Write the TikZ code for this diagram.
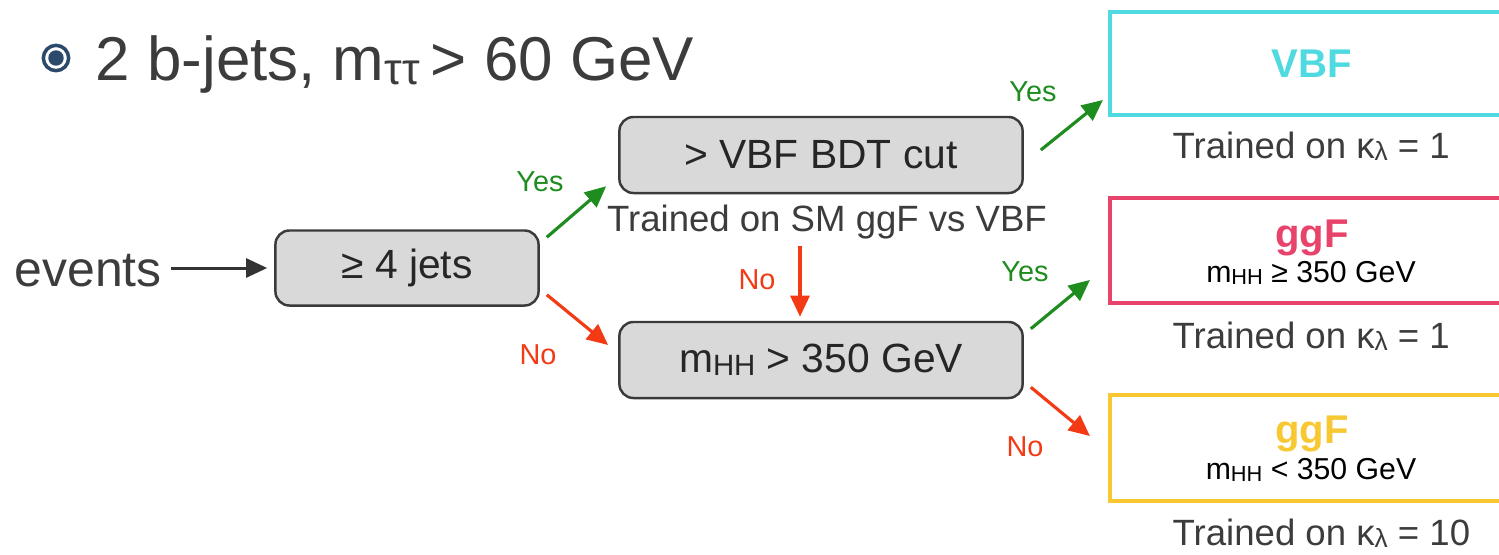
\documentclass[tikz,border=0pt]{standalone}
\usepackage{fontspec}
\setmainfont{Liberation Sans}
\usetikzlibrary{arrows.meta,calc}
\definecolor{txt}{HTML}{3C3C3C}
\definecolor{boxfill}{HTML}{D9D9D9}
\definecolor{boxdraw}{HTML}{3A3A3A}
\definecolor{yesgreen}{HTML}{1E8C1E}
\definecolor{nored}{HTML}{F23A14}
\definecolor{vbfcyan}{HTML}{4FD9E0}
\definecolor{ggfpink}{HTML}{E8436B}
\definecolor{ggfyellow}{HTML}{F8C832}
\definecolor{bulletblue}{HTML}{2C4A6C}
\newcommand\lsub[1]{\raisebox{-0.08em}{\scalebox{0.72}{#1}}}
\newcommand\fs[1]{\fontsize{#1}{#1}\selectfont}
\tikzset{
  x=0.01cm, y=-0.01cm,
  decision/.style={draw=boxdraw, fill=boxfill, line width=0.7pt, rounded corners=4pt,
    inner sep=0pt, text=black!85, font=\fs{11.6pt}},
  result/.style={draw=#1, line width=1.1pt, inner sep=0pt},
  yesarrow/.style={draw=yesgreen, line width=0.9pt, -{Triangle[length=6pt,width=5.4pt]}},
  noarrow/.style={draw=nored, line width=0.9pt, -{Triangle[length=6pt,width=5.4pt]}},
  yeslabel/.style={text=yesgreen, font=\fs{8.2pt}, inner sep=0pt},
  nolabel/.style={text=nored, font=\fs{8.2pt}, inner sep=0pt},
  trained/.style={text=txt, font=\fs{10.4pt}, inner sep=0pt},
}
\begin{document}
\begin{tikzpicture}
\useasboundingbox (0,0) rectangle (1499,554);
\clip (0,0) rectangle (1499,554);
% title bullet
\node[circle, draw=bulletblue, line width=1pt, fill=white, minimum size=7.2pt, inner sep=0pt] (bul) at (56,58) {};
\node[circle, fill=bulletblue, minimum size=4.4pt, inner sep=0pt] (bulin) at (bul) {};
\node[anchor=base west, text=txt, font=\fs{17.6pt}, inner sep=0pt] (title) at (95,80)
  {2 b-jets, m\lsub{ττ} \kern-0.1em> 60 GeV};
% events
\node[anchor=base west, text=txt, font=\fs{14.2pt}, inner sep=0pt] (events) at (14,286) {events};
% decision boxes
\node[decision, minimum width=2.63cm, minimum height=0.75cm] (jets) at (407,268) {≥ 4 jets};
\node[decision, minimum width=4.03cm, minimum height=0.76cm] (bdt) at (821,155) {> VBF BDT cut};
\node[decision, minimum width=4.03cm, minimum height=0.76cm] (mhh) at (821,360) {m\lsub{HH} > 350 GeV};
\node[trained] (bdtnote) at (827,222) {Trained on SM ggF vs VBF};
% result boxes
\node[result=vbfcyan, minimum width=4.2cm, minimum height=1.03cm] (vbf) at (1320,63.5) {};
\node[result=ggfpink, minimum width=4.2cm, minimum height=1.05cm] (ggfhi) at (1320,250.5) {};
\node[result=ggfyellow, minimum width=4.2cm, minimum height=1.06cm] (ggflo) at (1320,448) {};
\node[text=vbfcyan, font=\bfseries\fs{11.4pt}, inner sep=0pt] (vbft) at (1312,64) {VBF};
\node[text=ggfpink, font=\bfseries\fs{11.4pt}, inner sep=0pt] (ggfhit) at (1312,238) {ggF};
\node[text=black, font=\fs{8.6pt}, inner sep=0pt] (ggfhic) at (1311,273) {m\lsub{HH} ≥ 350 GeV};
\node[text=ggfyellow, font=\bfseries\fs{11.4pt}, inner sep=0pt] (ggflot) at (1312,434) {ggF};
\node[text=black, font=\fs{8.6pt}, inner sep=0pt] (ggfloc) at (1311,470) {m\lsub{HH} < 350 GeV};
\node[trained, anchor=base west] (tr1) at (1172,158) {Trained on κ\lsub{λ} = 1};
\node[trained, anchor=base west] (tr2) at (1172,348) {Trained on κ\lsub{λ} = 1};
\node[trained, anchor=base west] (tr3) at (1172,545) {Trained on κ\lsub{λ} = 10};
% connectors
\draw[line width=0.85pt, draw=black!80, -{Triangle[length=6pt,width=5.4pt]}]
  ($(jets.west)+(-103,0)$) -- ($(jets.west)+(-7,0)$);
\draw[yesarrow] ($(jets.north east)+(7,8)$) -- ($(bdt.south west)+(-12,-8)$);
\draw[noarrow] ($(jets.south east)+(7,-12)$) -- ($(mhh.west)+(-10,-15)$);
\draw[noarrow] ($(bdt.south)+(-21,52)$) -- ($(mhh.north)+(-21,-4)$);
\draw[yesarrow] ($(bdt.east)+(17,-5)$) -- ($(vbf.south west)+(-5,-17)$);
\draw[yesarrow] ($(mhh.north east)+(7,8)$) -- ($(ggfhi.south west)+(-18,-25)$);
\draw[noarrow] ($(mhh.south east)+(7,-12)$) -- ($(ggflo.north west)+(-18,43)$);
% labels
\node[yeslabel] (l1) at (540,182) {Yes};
\node[nolabel] (l2) at (538,355) {No};
\node[nolabel] (l3) at (757,280) {No};
\node[yeslabel] (l4) at (1033,92) {Yes};
\node[yeslabel] (l5) at (1025,272) {Yes};
\node[nolabel] (l6) at (1025,447) {No};
\end{tikzpicture}
\end{document}
